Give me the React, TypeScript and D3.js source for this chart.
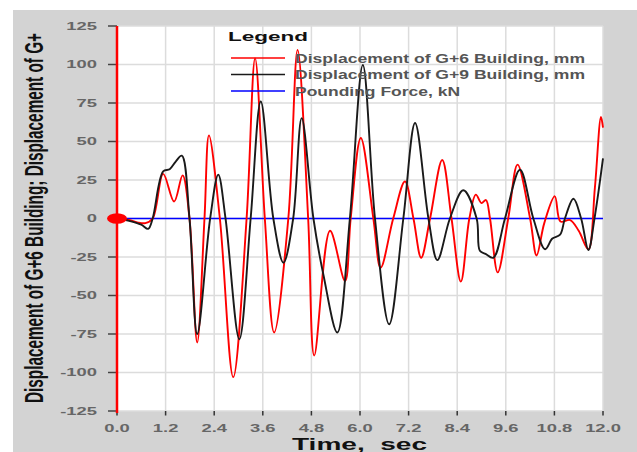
import React from "react";
import * as d3 from "d3";

const redT = [0, 0.3, 0.5, 0.7, 0.88, 1.14, 1.41, 1.62, 1.79, 1.98, 2.16, 2.27, 2.54, 2.87, 3.2, 3.41, 3.65, 3.88, 4.23, 4.46, 4.72, 4.87, 5.26, 5.63, 5.77, 6.02, 6.33, 6.51, 6.82, 7.11, 7.32, 7.51, 7.73, 8.03, 8.26, 8.49, 8.7, 8.86, 9.0, 9.11, 9.21, 9.4, 9.66, 9.89, 10.2, 10.36, 10.55, 10.81, 10.95, 11.19, 11.4, 11.64, 11.8, 11.95, 12.0];
const redV = [0, -1, -2.5, -3, 0, 29, 11, 28, 0, -80.5, 0, 54, 0, -103, 0, 104, 0, -74, 0, 109.5, 0, -89, -8, -40.6, 0, 52.3, 0, -32, 0, 24, 0, -25.5, 0, 38, 0, -41, 0, 15.5, 10, 12, 0, -35, 0, 35, 0, -24, -3, 14.4, -2, -1, -8, -20, 20, 66, 59];

const blackT = [0, 0.3, 0.6, 0.77, 0.88, 1.14, 1.3, 1.45, 1.6, 1.79, 1.98, 2.3, 2.5, 2.68, 3.02, 3.3, 3.55, 3.86, 4.11, 4.35, 4.56, 4.85, 5.1, 5.44, 5.75, 6.07, 6.37, 6.72, 7.07, 7.36, 7.69, 7.91, 8.22, 8.55, 8.88, 8.96, 9.1, 9.29, 9.58, 9.95, 10.28, 10.57, 10.75, 10.94, 11.06, 11.27, 11.46, 11.64, 11.79, 12.0];
const blackV = [0, -1.5, -4, -6.7, 0, 30.6, 32, 37, 40.8, 0, -75, 0, 28.5, 0, -78.4, 0, 76, 0, -28.7, 0, 65.2, 0, -37, -74, 0, 99.7, 0, -68.7, 0, 62, 0, -27, 0, 18.3, 0, -21, -23, -25.5, 0, 31.7, 0, -20, -13, -10.5, 0, 12.8, 0, -20.5, 0, 39];

const forceT = [0, 12];
const forceV = [0, 0];

const yTicks = [125, 100, 75, 50, 25, 0, -25, -50, -75, -100, -125];
const xTicks = [0, 1.2, 2.4, 3.6, 4.8, 6.0, 7.2, 8.4, 9.6, 10.8, 12.0];

const legendLabels = [
  "Displacement of G+6 Building, mm",
  "Displacement of G+9 Building, mm",
  "Pounding Force, kN",
];
const legendColors = ["#ff0000", "#1a1a1a", "#0000ff"];

const FONT = "'Liberation Sans', Arial, sans-serif";

export default function App() {
  const x = d3.scaleLinear().domain([0, 12]).range([117, 603]);
  const y = d3.scaleLinear().domain([-125, 125]).range([411, 26]);
  const line = d3
    .line<[number, number]>()
    .x((d) => x(d[0]))
    .y((d) => y(d[1]))
    .curve(d3.curveCatmullRom.alpha(0.5));
  const red = redT.map((t, i) => [t, redV[i]] as [number, number]);
  const black = blackT.map((t, i) => [t, blackV[i]] as [number, number]);
  const force = forceT.map((t, i) => [t, forceV[i]] as [number, number]);
  const SX = 1.75;

  return (
    <svg
      width={637}
      height={452}
      style={{ position: "absolute", left: 0, top: 0, background: "#fff" }}
    >
      <rect x={13} y={10} width={624} height={442} fill="#d3d3d3" />
      <rect x={117} y={26} width={486} height={385} fill="#ffffff" />
      {/* grid */}
      {yTicks.map((t) => (
        <line key={"gy" + t} x1={117} x2={603} y1={y(t)} y2={y(t)} stroke="#dcdcdc" strokeWidth={1.5} />
      ))}
      {xTicks.map((t) => (
        <line key={"gx" + t} x1={x(t)} x2={x(t)} y1={26} y2={411} stroke="#dcdcdc" strokeWidth={1.5} />
      ))}
      {/* y ticks */}
      {yTicks.map((t) => (
        <g key={"yt" + t}>
          <line x1={108} x2={117} y1={y(t)} y2={y(t)} stroke="#444" strokeWidth={1.5} />
          <text
            transform={`translate(97,${y(t) + 3.8}) scale(${SX},1)`}
            textAnchor="end"
            fontFamily={FONT}
            fontWeight="bold"
            fontSize={10.5}
            fill="#666"
          >
            {String(t)}
          </text>
        </g>
      ))}
      {/* x ticks */}
      {xTicks.map((t) => (
        <g key={"xt" + t}>
          <line x1={x(t)} x2={x(t)} y1={411} y2={415.5} stroke="#333" strokeWidth={1.5} />
          <text
            transform={`translate(${x(t)},432) scale(${SX},1)`}
            textAnchor="middle"
            fontFamily={FONT}
            fontWeight="bold"
            fontSize={10.5}
            fill="#666"
          >
            {t.toFixed(1)}
          </text>
        </g>
      ))}
      {/* series */}
      <path d={line(force) || ""} fill="none" stroke="#0000ff" strokeWidth={1.3} />
      <path d={line(red) || ""} fill="none" stroke="#ff0000" strokeWidth={1.9} />
      <path d={line(black) || ""} fill="none" stroke="#1a1a1a" strokeWidth={1.9} />
      {/* red y axis */}
      <line x1={117} x2={117} y1={26} y2={413} stroke="#ff0000" strokeWidth={2.5} />
      <ellipse cx={117} cy={y(0)} rx={10} ry={5.2} fill="#ff0000" />
      {/* legend */}
      <text x={228} y={41} fontFamily={FONT} fontWeight="bold" fontSize={13} textLength={80} lengthAdjust="spacingAndGlyphs" fill="#111">
        Legend
      </text>
      {legendLabels.map((lab, i) => {
        const ly = 58 + i * 16.5;
        const widths = [290, 290, 165];
        return (
          <g key={lab}>
            <line x1={231} x2={285} y1={ly} y2={ly} stroke={legendColors[i]} strokeWidth={1.3} />
            <text
              x={295}
              y={ly + 4.5}
              fontFamily={FONT}
              fontSize={12.5}
              textLength={widths[i]}
              lengthAdjust="spacingAndGlyphs"
              fill="#555"
              fontWeight="bold"
            >
              {lab}
            </text>
          </g>
        );
      })}
      {/* axis titles */}
      <text
        x={292}
        y={450}
        fontFamily={FONT}
        fontWeight="bold"
        fontSize={16}
        textLength={135}
        lengthAdjust="spacingAndGlyphs"
        fill="#111"
        style={{ whiteSpace: "pre" }}
      >
        {"Time,  sec"}
      </text>
      <text
        transform={`translate(42.5,218) scale(1.7,1) rotate(-90)`}
        textAnchor="middle"
        fontFamily={FONT}
        fontWeight="bold"
        fontSize={15.5}
        textLength={370}
        lengthAdjust="spacingAndGlyphs"
        fill="#111"
      >
        Displacement of G+6 Building; Displacement of G+
      </text>
    </svg>
  );
}
